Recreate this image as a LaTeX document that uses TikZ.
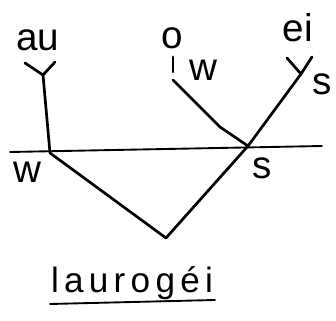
\documentclass[tikz,border=0pt]{standalone}
\usepackage{fontspec}
\setmainfont{Liberation Sans}
\usetikzlibrary{positioning}

\begin{document}
\begin{tikzpicture}[x=0.03cm,y=-0.03cm,line width=2.3pt,line cap=round,line join=round,
  lab/.style={font=\fontsize{33}{35}\selectfont,inner sep=0pt}]
\useasboundingbox (0,0) rectangle (336,321);
% syllables
\node[lab] (au) at (38,40) {au};
\node[lab] (o) at (172,38) {o};
\node[lab] (ei) at (298,28) {ei};
% tree
\coordinate (auL) at (25,63);
\coordinate (auR) at (55,62);
\coordinate (auY) at (43,75);
\coordinate (footL) at (50,153);
\coordinate (root) at (166,238);
\coordinate (footR) at (248,146);
\coordinate (eiL) at (287,58);
\coordinate (eiR) at (312,57);
\coordinate (eiY) at (301,74);
\coordinate (oT) at (173,57);
\coordinate (oB) at (173,72);
\coordinate (oS) at (173,80);
\coordinate (oM) at (220,127);
\draw (auL) -- (auY) -- (auR);
\draw (eiL) -- (eiY) -- (eiR);
\draw (auY) -- (footL) -- (root) -- (footR) -- (eiY);
\draw (oT) -- (oB);
\draw (oS) -- (oM) -- (footR);
% line
\coordinate (hl) at (10,152);
\coordinate (hr) at (322,146);
\draw[line width=1.6pt] (hl) -- (hr);
% labels
\node[lab] (w1) at (27,172) {w};
\node[lab] (s1) at (262,168) {s};
\node[lab] (w2) at (203,70) {w};
\node[lab] (s2) at (322,84) {s};
% word
\node[font=\fontsize{30}{32}\selectfont\addfontfeature{LetterSpace=15},anchor=base,inner sep=0pt] (word) at (132,293) {laurogéi};
\coordinate (ulL) at (50,304);
\coordinate (ulR) at (215,300);
\draw[line width=1.6pt] (ulL) -- (ulR);
\end{tikzpicture}
\end{document}
